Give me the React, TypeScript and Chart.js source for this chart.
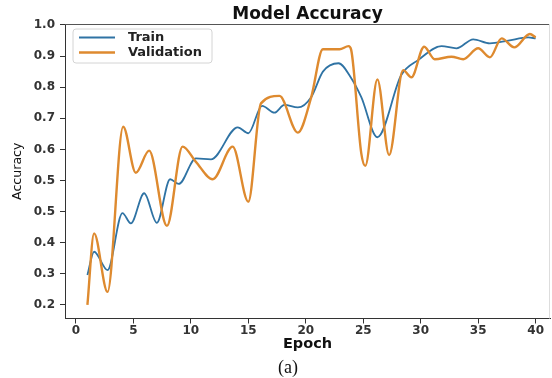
import { useEffect, useRef } from "react";
import { Chart, registerables } from "chart.js";

Chart.register(...registerables);

// Values in the plot's own vertical units
// (its tick labels read 1.0 … 0.5, 0.5 … 0.2 from top to bottom).
const trainEpochs = [1, 1.58, 2.75, 4.05, 4.78, 5.94, 7.04, 8.2, 8.95, 10.44, 11.75, 14.08, 15.0, 16.2, 17.27, 18.14, 19.31, 20.47, 21.49, 22.85, 23.96, 24.83, 26.23, 28.31, 29.77, 31.81, 33.11, 34.57, 36.02, 37.62, 39.36, 40];
const trainAccuracy = [0.296, 0.371, 0.312, 0.495, 0.462, 0.559, 0.464, 0.604, 0.589, 0.671, 0.668, 0.771, 0.752, 0.84, 0.818, 0.843, 0.835, 0.868, 0.95, 0.977, 0.929, 0.868, 0.739, 0.939, 0.987, 1.032, 1.025, 1.054, 1.041, 1.05, 1.06, 1.057];

const valEpochs = [1, 1.58, 2.75, 4.11, 5.21, 6.37, 7.92, 9.28, 10.44, 11.9, 13.64, 15.0, 16.1, 17.71, 19.31, 20.47, 21.49, 22.94, 23.72, 23.95, 24.83, 25.18, 26.23, 27.25, 28.47, 29.19, 30.3, 31.22, 32.68, 33.7, 35.0, 36.02, 37.04, 38.14, 39.5, 40];
const valAccuracy = [0.2, 0.43, 0.242, 0.773, 0.625, 0.696, 0.454, 0.709, 0.66, 0.604, 0.709, 0.532, 0.848, 0.872, 0.754, 0.867, 1.022, 1.022, 1.032, 1.02, 0.687, 0.647, 0.925, 0.682, 0.955, 0.932, 1.03, 0.99, 0.998, 0.99, 1.025, 0.996, 1.057, 1.028, 1.071, 1.06];

const seriesLabels = ["Train", "Validation"];
const xTickValues = [0, 5, 10, 15, 20, 25, 30, 35, 40];
const yTickValues = [0.2, 0.3, 0.4, 0.5, 0.6, 0.7, 0.8, 0.9, 1.0, 1.1];
const yTickLabels = ["0.2", "0.3", "0.4", "0.5", "0.5", "0.6", "0.7", "0.8", "0.9", "1.0"];

const FAMILY = "'DejaVu Sans', sans-serif";

const frameAndLegend = {
  id: "frameAndLegend",
  afterDatasetsDraw(chart: any) {
    const { ctx, chartArea: a } = chart;
    ctx.save();
    // top and right spines
    ctx.lineWidth = 1;
    ctx.strokeStyle = "#555555";
    ctx.beginPath();
    ctx.moveTo(a.left, a.top + 0.5);
    ctx.lineTo(a.right, a.top + 0.5);
    ctx.stroke();
    ctx.strokeStyle = "#dddddd";
    ctx.beginPath();
    ctx.moveTo(a.right - 0.5, a.top);
    ctx.lineTo(a.right - 0.5, a.bottom);
    ctx.stroke();

    // legend frame
    const bx = a.left + 8;
    const by = a.top + 5;
    const bw = 139;
    const bh = 34;
    const r = 3;
    ctx.beginPath();
    ctx.moveTo(bx + r, by);
    ctx.lineTo(bx + bw - r, by);
    ctx.quadraticCurveTo(bx + bw, by, bx + bw, by + r);
    ctx.lineTo(bx + bw, by + bh - r);
    ctx.quadraticCurveTo(bx + bw, by + bh, bx + bw - r, by + bh);
    ctx.lineTo(bx + r, by + bh);
    ctx.quadraticCurveTo(bx, by + bh, bx, by + bh - r);
    ctx.lineTo(bx, by + r);
    ctx.quadraticCurveTo(bx, by, bx + r, by);
    ctx.closePath();
    ctx.fillStyle = "rgba(255,255,255,0.9)";
    ctx.fill();
    ctx.strokeStyle = "#d4d4d4";
    ctx.stroke();

    chart.data.datasets.forEach((ds: any, i: number) => {
      const y = by + 8.5 + i * 15;
      ctx.strokeStyle = ds.borderColor;
      ctx.lineWidth = ds.borderWidth;
      ctx.beginPath();
      ctx.moveTo(bx + 6, y);
      ctx.lineTo(bx + 42, y);
      ctx.stroke();
      ctx.fillStyle = "#222222";
      ctx.font = `bold 13px ${FAMILY}`;
      ctx.textAlign = "left";
      ctx.textBaseline = "middle";
      ctx.fillText(ds.label, bx + 55, y);
    });
    ctx.restore();
  },
};

export default function App() {
  const canvasRef = useRef<HTMLCanvasElement | null>(null);

  useEffect(() => {
    const canvas = canvasRef.current;
    if (!canvas) return;
    const chart = new Chart(canvas, {
      type: "line",
      data: {
        datasets: [
          {
            label: seriesLabels[0],
            data: trainEpochs.map((x, i) => ({ x, y: trainAccuracy[i] })),
            borderColor: "#2f73a4",
            backgroundColor: "#2f73a4",
            borderWidth: 1.8,
            pointRadius: 0,
            cubicInterpolationMode: "monotone",
            fill: false,
            order: 1,
          },
          {
            label: seriesLabels[1],
            data: valEpochs.map((x, i) => ({ x, y: valAccuracy[i] })),
            borderColor: "#de8a2f",
            backgroundColor: "#de8a2f",
            borderWidth: 2.4,
            pointRadius: 0,
            cubicInterpolationMode: "monotone",
            fill: false,
            order: 0,
          },
        ],
      },
      options: {
        animation: false,
        responsive: false,
        devicePixelRatio: 1,
        events: [],
        layout: { padding: { left: 0, right: 2, top: 0, bottom: 25 } },
        plugins: {
          legend: { display: false },
          tooltip: { enabled: false },
          title: {
            display: true,
            text: "Model Accuracy",
            fullSize: false,
            color: "#111111",
            font: { family: FAMILY, size: 17, weight: "bold", lineHeight: 1 },
            padding: { top: 6.5, bottom: 0.5 },
          },
        },
        scales: {
          x: {
            type: "linear",
            min: -0.95,
            max: 41.25,
            afterBuildTicks: (s: any) => {
              s.ticks = xTickValues.map((value) => ({ value }));
            },
            afterFit: (s: any) => {
              s.height = 34.5;
            },
            grid: { display: true, drawOnChartArea: false, drawTicks: true, tickLength: 5, tickColor: "#333333" },
            border: { display: true, color: "#333333", width: 1 },
            ticks: {
              color: "#333333",
              padding: 1,
              autoSkip: false,
              maxRotation: 0,
              font: { family: FAMILY, size: 12, weight: "bold", lineHeight: 1 },
              callback: (v: any) => String(v),
            },
            title: {
              display: true,
              text: "Epoch",
              color: "#111111",
              font: { family: FAMILY, size: 14.5, weight: "bold", lineHeight: 1.2 },
              padding: { top: 0, bottom: 0 },
            },
          },
          y: {
            type: "linear",
            min: 0.1563,
            max: 1.1032,
            afterBuildTicks: (s: any) => {
              s.ticks = yTickValues.map((value) => ({ value }));
            },
            afterFit: (s: any) => {
              s.width = 65;
            },
            grid: { display: true, drawOnChartArea: false, drawTicks: true, tickLength: 5, tickColor: "#333333" },
            border: { display: true, color: "#333333", width: 1 },
            ticks: {
              color: "#333333",
              padding: 5,
              autoSkip: false,
              font: { family: FAMILY, size: 12, weight: "bold", lineHeight: 1.2 },
              callback: (_v: any, i: number) => yTickLabels[i],
            },
            title: {
              display: true,
              text: "Accuracy",
              color: "#111111",
              font: { family: FAMILY, size: 12.6, lineHeight: 1.2 },
              padding: { top: 10, bottom: 0 },
            },
          },
        },
      },
      plugins: [frameAndLegend],
    } as any);
    return () => chart.destroy();
  }, []);

  return (
    <div style={{ position: "absolute", left: 0, top: 0, width: 552, height: 378, background: "#ffffff" }}>
      <canvas ref={canvasRef} width={552} height={378} style={{ display: "block", width: 552, height: 378 }} />
      <div
        style={{
          position: "absolute",
          left: 268,
          top: 357.5,
          width: 40,
          textAlign: "center",
          fontFamily: "'Liberation Serif', 'Times New Roman', serif",
          fontSize: 18,
          lineHeight: "18px",
          color: "#111111",
        }}
      >
        (a)
      </div>
    </div>
  );
}
